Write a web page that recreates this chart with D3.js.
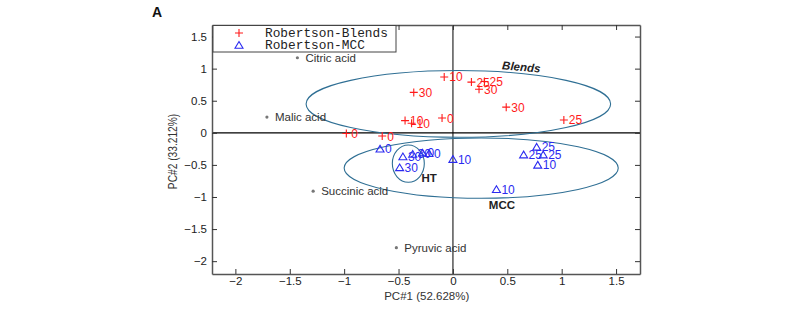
<!DOCTYPE html>
<html>
<head>
<meta charset="utf-8">
<script src="https://cdn.jsdelivr.net/npm/d3@7"></script>
<style>
  body { margin: 0; background: #fff; }
  svg { display: block; }
</style>
</head>
<body>
<div id="chart"></div>
<script>
// Robertson-Blends scores (red +)
const blendX = [-0.08, 0.17, 0.29, 0.24, -0.36, 0.49, 1.02, -0.10, -0.44, -0.38, -0.98, -0.65];
const blendY = [0.87, 0.79, 0.80, 0.68, 0.63, 0.40, 0.20, 0.23, 0.19, 0.15, -0.01, -0.05];
const blendLabels = ["10", "25", "25", "30", "30", "30", "25", "0", "10", "10", "0", "0"];

// Robertson-MCC scores (blue triangles)
const mccX = [-0.67, -0.46, -0.37, -0.28, -0.22, -0.49, 0.00, 0.77, 0.65, 0.83, 0.78, 0.40];
const mccY = [-0.25, -0.37, -0.33, -0.31, -0.32, -0.54, -0.41, -0.22, -0.34, -0.34, -0.50, -0.88];
const mccLabels = ["0", "30", "30", "0", "0", "30", "10", "25", "25", "25", "10", "10"];

// loadings (gray dots)
const acidNames = ["Citric acid", "Malic acid", "Succinic acid", "Pyruvic acid"];
const acidX = [-1.43, -1.71, -1.285, -0.52];
const acidY = [1.17, 0.245, -0.91, -1.79];

// group ellipses: centre, radii (data units)
const groupNames = ["Blends", "MCC", "HT"];
const groupCx = [0.05, 0.26, -0.41];
const groupCy = [0.45, -0.55, -0.48];
const groupRx = [1.40, 1.26, 0.147];
const groupRy = [0.52, 0.47, 0.29];

const xTicks = [-2, -1.5, -1, -0.5, 0, 0.5, 1, 1.5];
const yTicks = [-2, -1.5, -1, -0.5, 0, 0.5, 1, 1.5];

const W = 789, H = 313;
const pLeft = 212, pRight = 640, pTop = 25, pBottom = 274;

const svg = d3.select("#chart").append("svg")
  .attr("width", W).attr("height", H)
  .style("font-family", "'Liberation Sans', Arial, sans-serif");

const x = d3.scaleLinear().domain([-2.215, 1.72]).range([pLeft, pRight]);
const y = d3.scaleLinear().domain([-2.2, 1.68]).range([pBottom, pTop]);

const ellColor = "#2f6f94";
const red = "#ff1a1a";
const blue = "#2b2bf0";

// zero lines
svg.append("line")
  .attr("x1", x(0)).attr("x2", x(0)).attr("y1", pTop).attr("y2", pBottom)
  .attr("stroke", "#555").attr("stroke-width", 1.5);
svg.append("line")
  .attr("x1", pLeft).attr("x2", pRight).attr("y1", y(0)).attr("y2", y(0))
  .attr("stroke", "#000").attr("stroke-width", 1.2);

// axes (ticks pointing inward, box on all sides)
function styleAxis(g) {
  g.select(".domain").attr("stroke", "#555").attr("stroke-width", 1.5);
  g.selectAll(".tick line").attr("stroke", "#333");
  g.selectAll(".tick text").attr("fill", "#222").style("font-size", "11.5px");
}
const fmt = d => d3.format("")(d);
svg.append("g").attr("transform", `translate(0,${pBottom})`)
  .call(d3.axisBottom(x).tickValues(xTicks).tickFormat(fmt).tickSizeInner(-5).tickSizeOuter(0).tickPadding(3))
  .call(styleAxis);
svg.append("g").attr("transform", `translate(${pLeft},0)`)
  .call(d3.axisLeft(y).tickValues(yTicks).tickFormat(fmt).tickSizeInner(-5).tickSizeOuter(0).tickPadding(5))
  .call(styleAxis);
svg.append("g").attr("transform", `translate(0,${pTop})`)
  .call(d3.axisTop(x).tickValues(xTicks).tickFormat("").tickSizeInner(-5).tickSizeOuter(0))
  .call(styleAxis);
svg.append("g").attr("transform", `translate(${pRight},0)`)
  .call(d3.axisRight(y).tickValues(yTicks).tickFormat("").tickSizeInner(-5).tickSizeOuter(0))
  .call(styleAxis);

// axis titles
svg.append("text")
  .attr("x", (x(-0.5) + x(0)) / 2 + 1).attr("y", 300)
  .attr("text-anchor", "middle").attr("fill", "#333").style("font-size", "11.5px")
  .text("PC#1 (52.628%)");
svg.append("text")
  .attr("transform", `translate(177,${(pTop + pBottom) / 2 + 2}) rotate(-90) scale(0.85,1)`)
  .attr("text-anchor", "middle").attr("fill", "#333").style("font-size", "12px")
  .text("PC#2 (33.212%)");

svg.append("text")
  .attr("x", 152).attr("y", 17)
  .style("font-size", "14px").style("font-weight", "bold").attr("fill", "#111")
  .text("A");

// ellipses
svg.selectAll("ellipse.grp")
  .data(groupNames)
  .join("ellipse")
  .attr("class", "grp")
  .attr("cx", (d, i) => x(groupCx[i]))
  .attr("cy", (d, i) => y(groupCy[i]))
  .attr("rx", (d, i) => x(groupRx[i]) - x(0))
  .attr("ry", (d, i) => y(0) - y(groupRy[i]))
  .attr("fill", "none").attr("stroke", ellColor).attr("stroke-width", 1.1);

// group labels
svg.append("text")
  .attr("transform", `translate(${x(0.45)},${y(0.99)}) rotate(5)`)
  .style("font-size", "11.5px").style("font-weight", "bold").style("font-style", "italic")
  .attr("fill", "#222").text("Blends");
svg.append("text")
  .attr("x", x(-0.29)).attr("y", y(-0.77))
  .style("font-size", "11.5px").style("font-weight", "bold").attr("fill", "#222").text("HT");
svg.append("text")
  .attr("x", x(0.33)).attr("y", y(-1.19))
  .style("font-size", "11.5px").style("font-weight", "bold").attr("fill", "#222").text("MCC");

// loadings
const acids = acidNames.map((n, i) => ({ n, x: acidX[i], y: acidY[i] }));
svg.selectAll("circle.acid").data(acids).join("circle")
  .attr("class", "acid")
  .attr("cx", d => x(d.x)).attr("cy", d => y(d.y)).attr("r", 1.6)
  .attr("fill", "#777");
svg.selectAll("text.acid").data(acids).join("text")
  .attr("class", "acid")
  .attr("x", d => x(d.x) + 8).attr("y", d => y(d.y) + 4)
  .style("font-size", "11.5px").attr("fill", "#333")
  .text(d => d.n);

// blends (+)
const blends = blendLabels.map((l, i) => ({ l, x: blendX[i], y: blendY[i] }));
const bg = svg.selectAll("g.blend").data(blends).join("g")
  .attr("class", "blend")
  .attr("transform", d => `translate(${x(d.x)},${y(d.y)})`);
bg.append("path").attr("d", "M-4,0H4M0,-4V4")
  .attr("stroke", red).attr("stroke-width", 1.1);
bg.append("text").attr("x", 5).attr("y", 4.5)
  .style("font-size", "12px").attr("fill", red).text(d => d.l);

// MCC (triangles)
const mcc = mccLabels.map((l, i) => ({ l, x: mccX[i], y: mccY[i] }));
const mg = svg.selectAll("g.mcc").data(mcc).join("g")
  .attr("class", "mcc")
  .attr("transform", d => `translate(${x(d.x)},${y(d.y)})`);
mg.append("path").attr("d", "M0,-3.5L4,3.2H-4Z")
  .attr("fill", "none").attr("stroke", blue).attr("stroke-width", 1.1);
mg.append("text").attr("x", 5).attr("y", 4.5)
  .style("font-size", "12px").attr("fill", blue).text(d => d.l);

// legend
const lg = svg.append("g");
lg.append("rect")
  .attr("x", pLeft + 1).attr("y", pTop + 0.5).attr("width", 183).attr("height", 26.5)
  .attr("fill", "#fff").attr("stroke", "#444").attr("stroke-width", 1);
const legendNames = ["Robertson-Blends", "Robertson-MCC"];
legendNames.forEach((n, i) => {
  const ly = pTop + 8 + i * 12;
  if (i === 0) {
    lg.append("path").attr("d", `M${239 - 4},${ly}H${239 + 4}M239,${ly - 4}V${ly + 4}`)
      .attr("stroke", red).attr("stroke-width", 1.1);
  } else {
    lg.append("path").attr("d", `M239,${ly - 3.5}L243,${ly + 3.2}H235Z`)
      .attr("fill", "none").attr("stroke", blue).attr("stroke-width", 1.1);
  }
  lg.append("text").attr("x", 265).attr("y", ly + 4)
    .style("font-family", "'Liberation Mono', 'Courier New', monospace")
    .style("font-size", "12.8px").attr("fill", "#222").text(n);
});
</script>
</body>
</html>
